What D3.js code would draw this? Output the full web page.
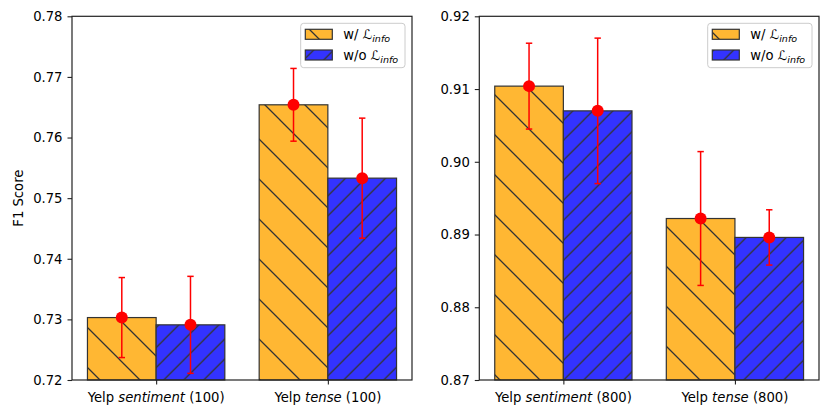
<!DOCTYPE html>
<html lang="en">
<head>
  <meta charset="UTF-8">
  <title>F1 score</title>
  <style>
    body { margin: 0; background: #fff; }
    svg { display: block; font-family: "DejaVu Sans", sans-serif; }
  </style>
</head>
<body>
<script src="https://cdn.jsdelivr.net/npm/d3@7/dist/d3.min.js"></script>
<script>
  // data
  var leftCats = [['Yelp ', 'sentiment', ' (100)'], ['Yelp ', 'tense', ' (100)']]
  var leftWith = [0.7303, 0.7654]
  var leftWithErr = [0.0066, 0.0060]
  var leftWithout = [0.7291, 0.7533]
  var leftWithoutErr = [0.0080, 0.0099]
  var leftTicks = [0.72, 0.73, 0.74, 0.75, 0.76, 0.77, 0.78]

  var rightCats = [['Yelp ', 'sentiment', ' (800)'], ['Yelp ', 'tense', ' (800)']]
  var rightWith = [0.9104, 0.8922]
  var rightWithErr = [0.0059, 0.0092]
  var rightWithout = [0.9070, 0.8896]
  var rightWithoutErr = [0.0100, 0.0038]
  var rightTicks = [0.87, 0.88, 0.89, 0.90, 0.91, 0.92]

  var seriesNames = ['w/ ', 'w/o ']
  var seriesColors = ['rgb(255,183,51)', 'rgb(51,51,255)']
  var seriesHatch = ['hatchBack', 'hatchFwd']

  var W = 831, H = 419, FS = 13.2
  var svg = d3.select('body').append('svg').attr('width', W).attr('height', H)

  var defs = svg.append('defs')
  var p1 = defs.append('pattern').attr('id', 'hatchBack')
    .attr('patternUnits', 'userSpaceOnUse').attr('width', 40).attr('height', 40)
    .attr('x', 0).attr('y', 0)
  p1.append('path').attr('d', 'M-4,-4L44,44M-4,36L4,44M36,-4L44,4')
    .attr('stroke', '#333').attr('stroke-width', 1.3)
  var p2 = defs.append('pattern').attr('id', 'hatchFwd')
    .attr('patternUnits', 'userSpaceOnUse').attr('width', 20).attr('height', 20)
    .attr('x', 3.7).attr('y', 0)
  p2.append('path').attr('d', 'M-4,24L24,-4M-4,4L4,-4M16,24L24,16')
    .attr('stroke', '#333').attr('stroke-width', 1.3)

  function panel(x0, x1, cats, vals, errs, ticks, ylabel) {
    var y0 = 16.3, y1 = 380
    var x = d3.scaleLinear().domain([-0.49, 1.49]).range([x0, x1])
    var y = d3.scaleLinear().domain([ticks[0], ticks[ticks.length - 1]]).range([y1, y0])
    var bw = 0.4

    var g = svg.append('g')

    vals.forEach(function(series, s) {
      series.forEach(function(v, i) {
        var c = i + (s - 0.5) * bw
        var bx = x(c - bw / 2), bwpx = x(c + bw / 2) - x(c - bw / 2)
        g.append('rect').attr('x', bx).attr('y', y(v)).attr('width', bwpx).attr('height', y1 - y(v))
          .attr('fill', seriesColors[s])
        g.append('rect').attr('x', bx).attr('y', y(v)).attr('width', bwpx).attr('height', y1 - y(v))
          .attr('fill', 'url(#' + seriesHatch[s] + ')')
          .attr('stroke', '#333').attr('stroke-width', 1.2)
      })
    })

    vals.forEach(function(series, s) {
      series.forEach(function(v, i) {
        var cx = x(i + (s - 0.5) * bw)
        var e = errs[s][i]
        g.append('line').attr('x1', cx).attr('x2', cx).attr('y1', y(v + e)).attr('y2', y(v - e))
          .attr('stroke', 'red').attr('stroke-width', 1.5)
        ;[v + e, v - e].forEach(function(t) {
          g.append('line').attr('x1', cx - 3.2).attr('x2', cx + 3.2).attr('y1', y(t)).attr('y2', y(t))
            .attr('stroke', 'red').attr('stroke-width', 1.5)
        })
        g.append('circle').attr('cx', cx).attr('cy', y(v)).attr('r', 6).attr('fill', 'red')
      })
    })

    // frame
    g.append('rect').attr('x', x0).attr('y', y0).attr('width', x1 - x0).attr('height', y1 - y0)
      .attr('fill', 'none').attr('stroke', '#222').attr('stroke-width', 1.2)

    var yAxis = d3.axisLeft(y).tickValues(ticks).tickFormat(d3.format('.2f')).tickSize(4.5).tickPadding(5)
    var ya = svg.append('g').attr('transform', 'translate(' + x0 + ',0)').call(yAxis)
    ya.select('.domain').remove()
    ya.selectAll('line').attr('stroke', '#222').attr('stroke-width', 1.1)
    ya.selectAll('text').attr('font-size', FS).attr('font-family', 'DejaVu Sans').attr('fill', '#000')

    var xAxis = d3.axisBottom(x).tickValues([0, 1]).tickFormat('').tickSize(4.5)
    var xa = svg.append('g').attr('transform', 'translate(0,' + y1 + ')').call(xAxis)
    xa.select('.domain').remove()
    xa.selectAll('line').attr('stroke', '#222').attr('stroke-width', 1.1)
    cats.forEach(function(c, i) {
      var t = svg.append('text').attr('x', x(i)).attr('y', 402).attr('text-anchor', 'middle')
        .attr('font-size', FS).attr('fill', '#000')
      t.append('tspan').text(c[0])
      t.append('tspan').attr('font-style', 'italic').text(c[1])
      t.append('tspan').text(c[2])
    })

    if (ylabel) {
      svg.append('text').attr('transform', 'translate(22.5,' + ((y0 + y1) / 2) + ') rotate(-90)')
        .attr('text-anchor', 'middle').attr('font-size', FS).attr('fill', '#000').text(ylabel)
    }

    // legend
    var lx = x1 - 111.3, ly = 23.3
    svg.append('rect').attr('x', lx).attr('y', ly).attr('width', 104.3).attr('height', 44.4)
      .attr('rx', 3).attr('fill', 'white').attr('fill-opacity', 0.8)
      .attr('stroke', '#ccc').attr('stroke-width', 1)
    seriesNames.forEach(function(n, s) {
      var ry = ly + 6 + s * 20.7
      svg.append('rect').attr('x', lx + 4.6).attr('y', ry).attr('width', 27).attr('height', 10)
        .attr('fill', seriesColors[s])
      svg.append('rect').attr('x', lx + 4.6).attr('y', ry).attr('width', 27).attr('height', 10)
        .attr('fill', 'url(#' + seriesHatch[s] + ')').attr('stroke', '#333').attr('stroke-width', 1.2)
      var t = svg.append('text').attr('x', lx + 42.6).attr('y', ry + 10)
        .attr('font-size', FS).attr('fill', '#000')
      t.append('tspan').text(n)
      t.append('tspan').attr('font-style', 'italic').text('\u2112')
      t.append('tspan').attr('font-style', 'italic').attr('font-size', 9.5).attr('dy', 3).text('info')
    })
  }

  panel(72, 412, leftCats, [leftWith, leftWithout], [leftWithErr, leftWithoutErr], leftTicks, 'F1 Score')
  panel(479.3, 819, rightCats, [rightWith, rightWithout], [rightWithErr, rightWithoutErr], rightTicks, null)
</script>
</body>
</html>
